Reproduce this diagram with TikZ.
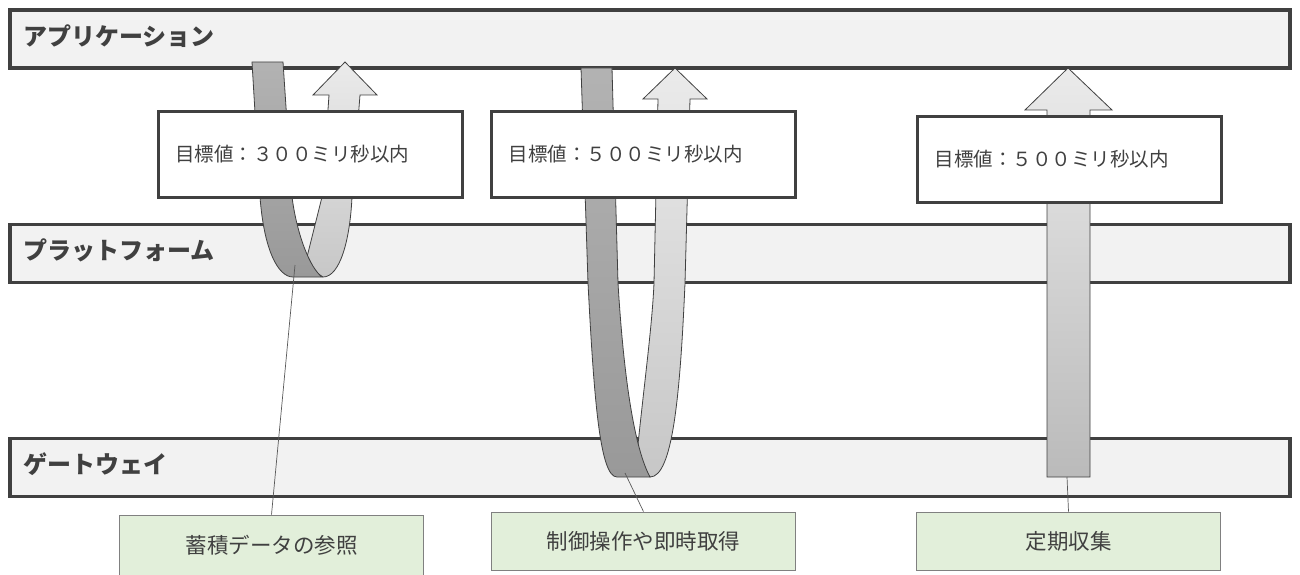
\documentclass[tikz,border=0pt]{standalone}
\usepackage{fontspec}
\setmainfont{Noto Sans CJK JP}
\usepackage{xcolor}
\usepackage{tikz}
\usetikzlibrary{positioning}

\definecolor{edge}{HTML}{404040}
\definecolor{band}{HTML}{F2F2F2}
\definecolor{notefill}{HTML}{E2EFDA}

\begin{document}
\begin{tikzpicture}[
          x=1pt, y=-1pt,
          layer/.style={draw=edge, line width=3.5pt, fill=band, minimum width=1280pt, minimum height=58pt, inner sep=0pt, outer sep=0pt},
          layername/.style={inner sep=0pt, yshift=3pt, text=edge, font=\bfseries\fontsize{24}{24}\selectfont},
          goal/.style={draw=edge, line width=3pt, fill=white, minimum height=85pt, text width=270pt, inner xsep=17pt, align=left, text=edge, font=\fontsize{19.5}{20}\selectfont},
          usecase/.style={draw=black!50, line width=0.8pt, fill=notefill, minimum width=304pt, minimum height=58pt, text=edge, font=\fontsize{21.5}{22}\selectfont},
          ribbon/.style={draw=edge, line width=0.8pt},
          pointer/.style={draw=black!65, line width=0.7pt}
        ]
          \useasboundingbox (0,0) rectangle (1300,575);

          \node[layer] (app) at (650,39) {};
          \node[layer] (plat) at (650,253.5) {};
          \node[layer] (gw) at (650,467.5) {};
          \node[layername, right=13pt of app.west] (appname) {アプリケーション};
          \node[layername, right=13pt of plat.west] (platname) {プラットフォーム};
          \node[layername, right=13pt of gw.west] (gwname) {ゲートウェイ};

          \path[ribbon, top color=black!8, bottom color=black!22]
            (305,265) -- (322,197) -- (329,95) -- (313,95) -- (345,62) -- (377,95) -- (360,95) -- (352,197)
            .. controls (350,240) and (340,277) .. (323,277) -- cycle;
          \path[ribbon, top color=black!30, bottom color=black!40]
            (252,62) -- (260,197) .. controls (264,250) and (278,277) .. (293,277) -- (322,277)
            .. controls (310,268) and (297,235) .. (292,197) -- (283,62) -- cycle;

          \path[ribbon, top color=black!8, bottom color=black!22]
            (636,465) .. controls (642,400) and (652,330) .. (654,283) -- (658,99) -- (643,99) -- (675,68)
            -- (707,99) -- (690,99) -- (685,283) .. controls (680,400) and (672,477) .. (650,477) -- cycle;
          \path[ribbon, top color=black!30, bottom color=black!40]
            (581,68) -- (588,283) .. controls (594,400) and (600,477) .. (617,477) -- (650,477)
            .. controls (638,455) and (625,400) .. (618,283) -- (612,68) -- cycle;

          \path[ribbon, top color=black!8, bottom color=black!27]
            (1047,477) -- (1047,110) -- (1025,110) -- (1068,68) -- (1112,110) -- (1090,110) -- (1090,477) -- cycle;

          \node[goal] (goal1) at (310,154.5) {目標値：３００ミリ秒以内};
          \node[goal] (goal2) at (643.5,154.5) {目標値：５００ミリ秒以内};
          \node[goal] (goal3) at (1069.5,159.5) {目標値：５００ミリ秒以内};

          \coordinate (fold1) at (295,265);
          \coordinate (fold2) at (625,473);
          \coordinate (foot3) at (1067,477);

          \node[usecase, minimum height=61pt] (stored) at (271.5,545.5) {蓄積データの参照};
          \node[usecase] (control) at (643.5,541) {制御操作や即時取得};
          \node[usecase] (periodic) at (1068.5,541) {定期収集};

          \draw[pointer] (stored.north) -- (fold1);
          \draw[pointer] (control.north) -- (fold2);
          \draw[pointer] (periodic.north) -- (foot3);
        \end{tikzpicture}
\end{document}
